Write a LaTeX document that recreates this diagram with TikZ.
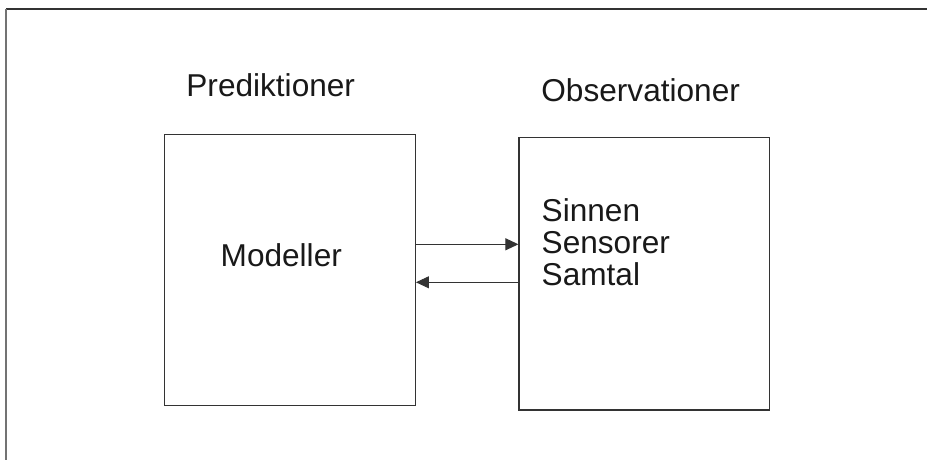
\documentclass[tikz,border=0pt]{standalone}
\usepackage{fontspec}
\setmainfont{Liberation Sans}
\usetikzlibrary{arrows.meta}
\begin{document}
\begin{tikzpicture}[x=1pt,y=-1pt,
  boxst/.style={draw=black!80, line width=1.3pt, minimum width=#1, inner sep=0pt},
  lbl/.style={anchor=base west, inner sep=0pt, font=\fontsize{31.6}{31.7}\selectfont, text=black!90},
  arr/.style={draw=black!80, line width=0.9pt, -{Triangle[length=13pt,width=12pt]}}]
\useasboundingbox (0,0) rectangle (927,460);
\fill[white] (0,0) rectangle (927,460);
% frame
\coordinate (fa) at (6,9);
\coordinate (fb) at (927,9);
\coordinate (fc) at (6,460);
\draw[black!80, line width=2pt] (fa) -- (fb);
\draw[black!55, line width=2pt] (fa) -- (fc);
% boxes
\node[boxst=251pt, minimum height=271pt] (L) at (289.8,270.2) {};
\node[boxst=250.3pt, minimum height=272.7pt] (R) at (644.2,273.7) {};
% headings
\node[lbl] (pred) at (186.2,96.7) {Prediktioner};
\node[lbl] (obs) at (541.2,101.7) {Observationer};
% contents
\node[lbl] (mod) at (220.5,266.7) {Modeller};
\node[lbl] (s1) at (541.5,221.7) {Sinnen};
\node[lbl] (s2) at (541.5,253.3) {Sensorer};
\node[lbl] (s3) at (541.5,285) {Samtal};
% arrows
\coordinate (y1) at (0,244.3);
\coordinate (y2) at (0,282.3);
\draw[arr] (L.east |- y1) -- (R.west |- y1);
\draw[arr] (R.west |- y2) -- (L.east |- y2);
\end{tikzpicture}
\end{document}
